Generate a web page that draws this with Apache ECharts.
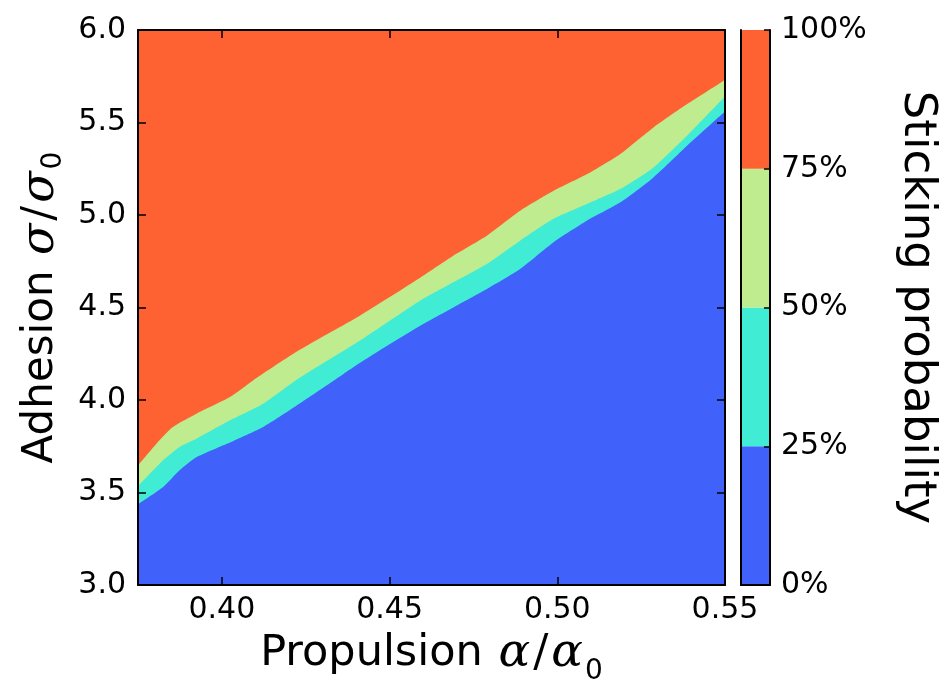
<!DOCTYPE html>
<html>
<head>
<meta charset="utf-8">
<script src="https://cdn.jsdelivr.net/npm/echarts@6/dist/echarts.min.js"></script>
<style>html,body{margin:0;padding:0;background:#fff}#c{width:951px;height:684px}</style>
</head>
<body>
<div id="c"></div>
<script>
// ---- data ----
const xRange = [0.375, 0.55];
const yRange = [3.0, 6.0];
const xTicks = [0.40, 0.45, 0.50, 0.55];
const yTicks = [3.0, 3.5, 4.0, 4.5, 5.0, 5.5, 6.0];
const levelLabels = ['0%', '25%', '50%', '75%', '100%'];
const levelValues = [0, 25, 50, 75, 100];
const levelColors = ['#4062FA', '#40ECD4', '#BFEC8E', '#FF6232'];

// contour lines (alpha, sigma) separating the probability bands
const contour25 = [[0.375,3.437],[0.3825,3.53],[0.3874,3.62],[0.3924,3.69],[0.4024,3.77],[0.4123,3.854],[0.4223,3.97],[0.4322,4.09],[0.4411,4.20],[0.459,4.40],[0.469,4.50],[0.479,4.60],[0.4889,4.708],[0.4988,4.852],[0.5088,4.969],[0.5187,5.067],[0.5286,5.202],[0.5386,5.373],[0.55,5.56]];
const contour50 = [[0.375,3.534],[0.3825,3.674],[0.3874,3.746],[0.3924,3.79],[0.4024,3.89],[0.4123,3.98],[0.4232,4.12],[0.4411,4.32],[0.459,4.535],[0.469,4.636],[0.479,4.735],[0.4889,4.861],[0.4988,4.978],[0.5088,5.059],[0.5187,5.14],[0.5286,5.256],[0.5386,5.427],[0.55,5.64]];
const contour75 = [[0.375,3.647],[0.3805,3.764],[0.3854,3.854],[0.3924,3.926],[0.4024,4.016],[0.4093,4.106],[0.4232,4.271],[0.4411,4.456],[0.459,4.66],[0.469,4.78],[0.479,4.888],[0.4889,5.023],[0.4988,5.13],[0.5088,5.22],[0.5187,5.329],[0.5286,5.472],[0.5386,5.598],[0.55,5.73]];
const contourTop = [[0.375,6.0],[0.55,6.0]];

const FONT = 'DejaVu Sans';
const tickFont = {fontFamily: FONT, fontSize: 30, color: '#000'};
const axisLineStyle = {show: true, lineStyle: {color: '#000', width: 2}};
const tickStyle = (vals) => ({show: true, inside: true, length: 8, lineStyle: {color: '#000', width: 1.5}, customValues: vals});

const chart = echarts.init(document.getElementById('c'), null, {renderer: 'canvas'});

function band(data, color, z) {
  return {
    type: 'line', xAxisIndex: 0, yAxisIndex: 0, data: data,
    smooth: 0.2, symbol: 'none', silent: true, z: z,
    lineStyle: {width: 0, color: color},
    areaStyle: {color: color, opacity: 1, origin: 'start'}
  };
}

function mathRich(size, subPad) {
  return {
    n: {fontFamily: FONT, fontSize: size, color: '#000'},
    m: {fontFamily: 'DejaVu Serif', fontSize: size + 4, fontStyle: 'italic', color: '#000', padding: [0, 2, 0, 2]},
    sl: {fontFamily: 'DejaVu Serif', fontSize: size + 2, color: '#000', padding: [0, 1, 0, 1]},
    s: {fontFamily: FONT, fontSize: Math.round(size * 0.66), color: '#000', padding: [subPad, 0, 0, 0]}
  };
}

const option = {
  animation: false,
  backgroundColor: '#fff',
  grid: [
    {left: 138, top: 30, width: 587, height: 555, containLabel: false, outerBoundsMode: 'none'},
    {left: 741, top: 30, width: 29, height: 555, containLabel: false, outerBoundsMode: 'none'}
  ],
  xAxis: [
    {type: 'value', gridIndex: 0, min: xRange[0], max: xRange[1], position: 'bottom', z: 10,
     axisLine: axisLineStyle, axisTick: tickStyle(xTicks), splitLine: {show: false},
     axisLabel: Object.assign({customValues: xTicks, margin: 10, formatter: v => v.toFixed(2)}, tickFont),
     name: '{n|Propulsion }{m|α}{sl|/}{m|α}{s|0}', nameLocation: 'middle', nameGap: 37,
     nameTextStyle: {rich: mathRich(43, 36)}},
    {type: 'value', gridIndex: 0, min: xRange[0], max: xRange[1], position: 'top', z: 10,
     axisLine: axisLineStyle, axisTick: tickStyle(xTicks), splitLine: {show: false},
     axisLabel: {show: false, customValues: xTicks}},
    {type: 'category', gridIndex: 1, data: ['bar'], position: 'bottom', z: 10,
     axisLine: axisLineStyle, axisTick: {show: false}, axisLabel: {show: false}},
    {type: 'category', gridIndex: 1, data: ['bar'], position: 'top', z: 10,
     axisLine: axisLineStyle, axisTick: {show: false}, axisLabel: {show: false}}
  ],
  yAxis: [
    {type: 'value', gridIndex: 0, min: yRange[0], max: yRange[1], position: 'left', z: 10,
     axisLine: axisLineStyle, axisTick: tickStyle(yTicks), splitLine: {show: false},
     axisLabel: Object.assign({customValues: yTicks, margin: 12, formatter: v => v.toFixed(1)}, tickFont),
     name: '{n|Adhesion }{m|σ}{sl|/}{m|σ}{s|0}', nameLocation: 'middle', nameGap: 66, nameRotate: 90,
     nameTextStyle: {rich: mathRich(42, 24)}},
    {type: 'value', gridIndex: 0, min: yRange[0], max: yRange[1], position: 'right', z: 10,
     axisLine: axisLineStyle, axisTick: tickStyle(yTicks), splitLine: {show: false},
     axisLabel: {show: false, customValues: yTicks}},
    {type: 'value', gridIndex: 1, min: 0, max: 100, position: 'right', z: 10,
     axisLine: axisLineStyle, axisTick: {show: true, inside: true, length: 6, lineStyle: {color: '#000', width: 1.5}, customValues: levelValues},
     splitLine: {show: false},
     axisLabel: Object.assign({customValues: levelValues, margin: 11, formatter: v => levelLabels[levelValues.indexOf(v)]}, tickFont),
     name: 'Sticking probability', nameLocation: 'middle', nameGap: 124, nameRotate: -90,
     nameTextStyle: {fontFamily: FONT, fontSize: 45, color: '#000'}},
    {type: 'value', gridIndex: 1, min: 0, max: 100, position: 'left', z: 10,
     axisLine: axisLineStyle, axisTick: {show: false}, axisLabel: {show: false}, splitLine: {show: false}}
  ],
  series: [
    band(contourTop, levelColors[3], 1),
    band(contour75, levelColors[2], 2),
    band(contour50, levelColors[1], 3),
    band(contour25, levelColors[0], 4)
  ].concat(levelColors.map((c, i) => ({
    type: 'bar', xAxisIndex: 2, yAxisIndex: 2, stack: 'cb', barWidth: '100%', silent: true, z: 1,
    data: [levelValues[i + 1] - levelValues[i]], itemStyle: {color: c}
  })))
};
chart.setOption(option);
</script>
</body>
</html>
